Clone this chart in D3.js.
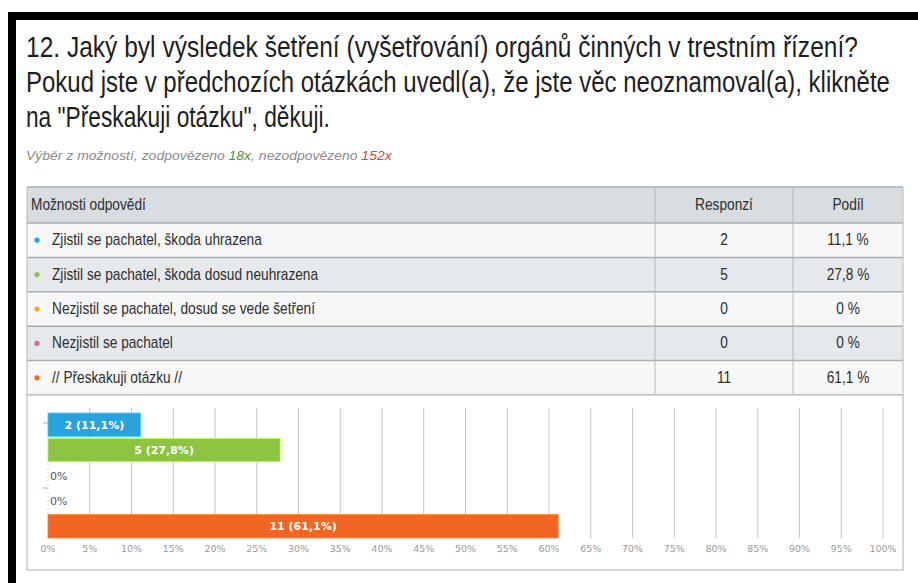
<!DOCTYPE html>
<html>
<head>
<meta charset="utf-8">
<script src="https://cdn.jsdelivr.net/npm/d3@7"></script>
<style>
  body { margin: 0; background: #fff; }
  svg { display: block; }
</style>
</head>
<body>
<svg id="chart" width="918" height="583"></svg>
<script>
var titleLines = [
    "12. Jaký byl výsledek šetření (vyšetřování) orgánů činných v trestním řízení?",
    "Pokud jste v předchozích otázkách uvedl(a), že jste věc neoznamoval(a), klikněte",
    "na \"Přeskakuji otázku\", děkuji."
];
var answered = 18;
var unanswered = 152;

var answers = [
    "Zjistil se pachatel, škoda uhrazena",
    "Zjistil se pachatel, škoda dosud neuhrazena",
    "Nezjistil se pachatel, dosud se vede šetření",
    "Nezjistil se pachatel",
    "// Přeskakuji otázku //"
];
var responses = [2, 5, 0, 0, 11];
var shares = [11.1, 27.8, 0, 0, 61.1];
var colors = ["#2aa2dc", "#8dc441", "#f6a828", "#e3659d", "#f26522"];
var xTicks = [0, 5, 10, 15, 20, 25, 30, 35, 40, 45, 50, 55, 60, 65, 70, 75, 80, 85, 90, 95, 100];

var face = "'Liberation Sans', Arimo, 'DejaVu Sans', sans-serif";
var comma = function(v) { return String(v).replace('.', ','); };

// squeeze a text horizontally (the original uses a narrow face we don't have)
function squeeze(sel, k) {
    sel.each(function(d, i) {
        var t = d3.select(this);
        var x0 = +t.attr('x'), y0 = +t.attr('y');
        var f = typeof k === 'function' ? k.call(this, d, i) : k;
        t.attr('x', 0).attr('y', 0)
            .attr('transform', 'translate(' + x0 + ',' + y0 + ') scale(' + f + ',1)');
    });
}

var svg = d3.select('#chart');

// black frame corner (top + left)
svg.append('rect').attr('x', 8).attr('y', 12).attr('width', 910).attr('height', 8).attr('fill', '#000');
svg.append('rect').attr('x', 8).attr('y', 12).attr('width', 8).attr('height', 571).attr('fill', '#000');

// title
var titleWidths = [832, 864, 304];
var title = svg.append('g')
    .selectAll('text')
    .data(titleLines)
    .join('text')
    .attr('x', 26)
    .attr('y', (d, i) => 57 + i * 35)
    .attr('fill', '#1e1e1e')
    .style('font-family', face)
    .style('font-size', '29px')
    .text(d => d);
squeeze(title, function(d, i) { return titleWidths[i] / this.getComputedTextLength(); });

// subtitle
var sub = svg.append('text')
    .attr('x', 26)
    .attr('y', 160)
    .attr('fill', '#8a8a8a')
    .style('font-family', face)
    .style('font-style', 'italic')
    .style('font-size', '13px');
sub.append('tspan').text('Výběr z možností, zodpovězeno ');
sub.append('tspan').attr('fill', '#3f9a35').text(answered + 'x');
sub.append('tspan').text(', nezodpovězeno ');
sub.append('tspan').attr('fill', '#e0413a').text(unanswered + 'x');
squeeze(sub, function() { return 366 / this.getComputedTextLength(); });

// table
var tx0 = 27, tx1 = 655, tx2 = 793, tx3 = 903;
var headTop = 187, headH = 36, rowH = 34.4;
var rowY = d3.scaleBand(answers, [headTop + headH, headTop + headH + rowH * answers.length]);

var table = svg.append('g');
table.append('rect')
    .attr('x', tx0).attr('y', headTop).attr('width', tx3 - tx0).attr('height', headH)
    .attr('fill', '#d7dde1');
table.selectAll('rect.row')
    .data(answers)
    .join('rect')
    .attr('class', 'row')
    .attr('x', tx0).attr('y', d => rowY(d))
    .attr('width', tx3 - tx0).attr('height', rowY.bandwidth())
    .attr('fill', (d, i) => i % 2 ? '#e6e9ec' : '#f7f7f7');

// horizontal rules
var ruleYs = [headTop].concat(answers.map(d => rowY(d)), [rowY(answers[answers.length - 1]) + rowY.bandwidth()]);
table.selectAll('line.h')
    .data(ruleYs)
    .join('line')
    .attr('x1', tx0).attr('x2', tx3)
    .attr('y1', d => d).attr('y2', d => d)
    .attr('stroke', '#a7afb5').attr('stroke-width', 1.5);
// vertical rules
var tableBottom = ruleYs[ruleYs.length - 1];
table.selectAll('line.v')
    .data([tx0, tx1, tx2, tx3])
    .join('line')
    .attr('x1', d => d).attr('x2', d => d)
    .attr('y1', headTop).attr('y2', tableBottom)
    .attr('stroke', '#b3babf').attr('stroke-width', 1);

var cellFont = function(sel) {
    return sel.attr('fill', '#2e2e2e').style('font-family', face).style('font-size', '16px');
};
var cells = table.append('g');
cellFont(cells.append('text').attr('x', 31).attr('y', headTop + headH / 2 + 5).text('Možnosti odpovědí'));
cellFont(cells.append('text').attr('x', (tx1 + tx2) / 2).attr('y', headTop + headH / 2 + 5).attr('text-anchor', 'middle').text('Responzí'));
cellFont(cells.append('text').attr('x', (tx2 + tx3) / 2).attr('y', headTop + headH / 2 + 5).attr('text-anchor', 'middle').text('Podíl'));

table.selectAll('circle.dot')
    .data(answers)
    .join('circle')
    .attr('cx', 37)
    .attr('cy', d => rowY(d) + rowY.bandwidth() / 2)
    .attr('r', 2.6)
    .attr('fill', (d, i) => colors[i]);
var ansText = cellFont(cells.selectAll('text.ans').data(answers).join('text'))
    .attr('class', 'ans')
    .attr('x', 52)
    .attr('y', d => rowY(d) + rowY.bandwidth() / 2 + 5)
    .text(d => d);
cellFont(cells.selectAll('text.resp').data(answers).join('text'))
    .attr('class', 'resp')
    .attr('x', (tx1 + tx2) / 2)
    .attr('y', d => rowY(d) + rowY.bandwidth() / 2 + 5)
    .attr('text-anchor', 'middle')
    .text((d, i) => responses[i]);
cellFont(cells.selectAll('text.share').data(answers).join('text'))
    .attr('class', 'share')
    .attr('x', (tx2 + tx3) / 2)
    .attr('y', d => rowY(d) + rowY.bandwidth() / 2 + 5)
    .attr('text-anchor', 'middle')
    .text((d, i) => comma(shares[i]) + ' %');
// first answer spans ~210px in the picture, use it to set the squeeze for all cells
var cellK = 210 / ansText.node().getComputedTextLength();
squeeze(cells.selectAll('text'), cellK);

// chart box
svg.append('rect')
    .attr('x', tx0).attr('y', tableBottom).attr('width', tx3 - tx0).attr('height', 570 - tableBottom)
    .attr('fill', '#fff').attr('stroke', '#b8bec2').attr('stroke-width', 1.2);

var x = d3.scaleLinear([0, 100], [48, 883]);
var y = d3.scaleBand(answers, [413, 538]).paddingInner(0.08);

var plot = svg.append('g');
plot.selectAll('line.grid')
    .data(xTicks.slice(1))
    .join('line')
    .attr('x1', d => x(d)).attr('x2', d => x(d))
    .attr('y1', 408).attr('y2', 538)
    .attr('stroke', '#c4c4c4').attr('stroke-width', 1);
plot.append('line')
    .attr('x1', x(0)).attr('x2', x(0)).attr('y1', 408).attr('y2', 538)
    .attr('stroke', '#d8d8d8').attr('stroke-dasharray', '2,2');
plot.selectAll('line.ytick')
    .data([423, 488])
    .join('line')
    .attr('x1', x(0) - 5).attr('x2', x(0))
    .attr('y1', d => d).attr('y2', d => d)
    .attr('stroke', '#e8a070');

plot.selectAll('text.tick')
    .data(xTicks)
    .join('text')
    .attr('x', d => x(d))
    .attr('y', 552)
    .attr('text-anchor', 'middle')
    .attr('fill', '#9a9a9a')
    .style('font-family', "'DejaVu Sans', sans-serif")
    .style('font-size', '9.5px')
    .text(d => d + '%');

plot.selectAll('rect.bar')
    .data(answers)
    .join('rect')
    .attr('x', x(0))
    .attr('y', d => y(d))
    .attr('width', (d, i) => x(shares[i]) - x(0))
    .attr('height', y.bandwidth())
    .attr('fill', (d, i) => colors[i])
    .attr('stroke', (d, i) => d3.color(colors[i]).brighter(0.8))
    .attr('stroke-width', 0.8);

plot.selectAll('text.bl')
    .data(answers)
    .join('text')
    .attr('x', (d, i) => shares[i] > 0 ? (x(0) + x(shares[i])) / 2 : x(0) + 2)
    .attr('y', d => y(d) + y.bandwidth() / 2 + 4)
    .attr('text-anchor', (d, i) => shares[i] > 0 ? 'middle' : 'start')
    .attr('fill', (d, i) => shares[i] > 0 ? '#fff' : '#555')
    .style('font-family', "'DejaVu Sans', sans-serif")
    .style('font-size', '11px')
    .style('font-weight', (d, i) => shares[i] > 0 ? 'bold' : 'normal')
    .text((d, i) => shares[i] > 0 ? responses[i] + ' (' + comma(shares[i]) + '%)' : '0%');
</script>
</body>
</html>
